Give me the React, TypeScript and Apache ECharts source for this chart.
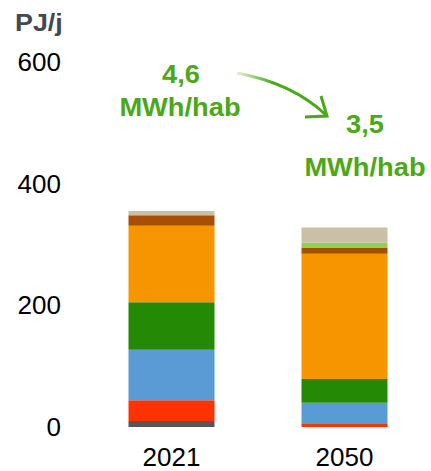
import React, { useEffect, useRef } from "react";
import * as echarts from "echarts";

const categories = ["2021", "2050"];
const greyValues = [10, 0];
const redValues = [34, 6];
const blueValues = [83, 34];
const greenValues = [78, 39];
const orangeValues = [126, 206];
const brownValues = [17, 10];
const lightGreenValues = [0, 8];
const beigeValues = [7, 25];

const unitLabel = "PJ/j";
const perCapita2021 = "4,6";
const perCapita2050 = "3,5";
const perCapitaUnit = "MWh/hab";

const seriesDefs = [
  { name: "grey", data: greyValues, color: "#575757" },
  { name: "red", data: redValues, color: "#ff3300" },
  { name: "blue", data: blueValues, color: "#5b9bd5" },
  { name: "green", data: greenValues, color: "#248a05" },
  { name: "orange", data: orangeValues, color: "#f69500" },
  { name: "brown", data: brownValues, color: "#a84e06" },
  { name: "lightGreen", data: lightGreenValues, color: "#92d050" },
  { name: "beige", data: beigeValues, color: "#cbbfa5" },
];

const FONT = "'Liberation Sans', Arial, Helvetica, sans-serif";
const GREEN = "#4ba817";

function greenText(text: string, x: number, y: number) {
  return {
    type: "text",
    x,
    y,
    scaleX: 1.05,
    style: { text, fontSize: 26, fontWeight: "bold", fill: GREEN, fontFamily: FONT, align: "center", verticalAlign: "middle" },
  };
}

export default function App() {
  const ref = useRef<HTMLDivElement>(null);
  useEffect(() => {
    if (!ref.current) return;
    const chart = echarts.init(ref.current, undefined, { renderer: "svg" });
    chart.setOption({
      animation: false,
      grid: { left: 85, top: 62, bottom: 44, width: 361 },
      xAxis: {
        type: "category",
        data: categories,
        axisLine: { show: false },
        axisTick: { show: false },
        axisLabel: { fontSize: 26, color: "#000", fontFamily: FONT, margin: 17 },
      },
      yAxis: {
        type: "value",
        min: 0,
        max: 600,
        interval: 200,
        splitLine: { show: false },
        axisLine: { show: false },
        axisTick: { show: false },
        axisLabel: { fontSize: 26, color: "#000", fontFamily: FONT, margin: 24 },
      },
      series: seriesDefs.map((s) => ({
        name: s.name,
        type: "bar",
        stack: "total",
        barWidth: 86,
        data: s.data,
        itemStyle: { color: s.color },
      })),
      graphic: [
        {
          type: "text",
          x: 15,
          y: 11,
          scaleX: 1.12,
          style: { text: unitLabel, fontSize: 24, fontWeight: "bold", fill: "#404b50", fontFamily: FONT },
        },
        greenText(perCapita2021, 181, 74),
        greenText(perCapitaUnit, 180, 107),
        greenText(perCapita2050, 365, 124),
        greenText(perCapitaUnit, 365, 167),
        {
          type: "bezierCurve",
          shape: { x1: 237, y1: 73, cpx1: 275, cpy1: 80, cpx2: 305, cpy2: 95, x2: 326, y2: 115 },
          style: {
            fill: "none",
            lineWidth: 3,
            stroke: {
              type: "linear",
              x: 0, y: 0, x2: 1, y2: 0,
              colorStops: [
                { offset: 0, color: "rgba(75,168,23,0.15)" },
                { offset: 0.4, color: GREEN },
                { offset: 1, color: GREEN },
              ],
            },
          },
        },
        {
          type: "polyline",
          shape: { points: [[321, 96], [327, 116], [305, 117]] },
          style: { fill: "none", stroke: GREEN, lineWidth: 3 },
        },
      ],
    });
    return () => chart.dispose();
  }, []);
  return <div ref={ref} style={{ position: "absolute", left: 0, top: 0, width: 431, height: 471 }} />;
}
